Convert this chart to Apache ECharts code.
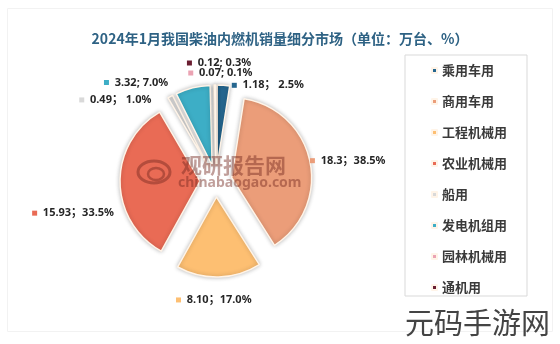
<!DOCTYPE html>
<html><head><meta charset="utf-8">
<script src="https://cdn.jsdelivr.net/npm/echarts@6/dist/echarts.min.js"></script>
<style>html,body{margin:0;padding:0;background:#fff}#c{width:560px;height:344px}</style>
</head><body><div id="c"></div>
<script>
// ---- data ----
const categories = ['乘用车用','商用车用','工程机械用','农业机械用','船用','发电机组用','园林机械用','通机用'];
const values = [1.18, 18.3, 8.10, 15.93, 0.49, 3.32, 0.07, 0.12];
const valueLabels = ['1.18','18.3','8.10','15.93','0.49','3.32','0.07','0.12'];
const pctLabels = ['2.5%','38.5%','17.0%','33.5%','1.0%','7.0%','0.1%','0.3%'];
const separators = ['； ','；','；','；','； ','; ','; ','; '];
const titleText = '2024年1月我国柴油内燃机销量细分市场（单位：万台、%）';
const watermarkCn = '观研报告网';
const watermarkEn = 'chinabaogao.com';
const siteMark = '元码手游网';

// ---- style ----
const colors = ['#25668f','#eb9d79','#fdbf72','#e96b55','#d9d9d9','#3daec6','#eba3b3','#6a1e31'];
const labelNudge = [[3,4],[-9,0],[-48,19],[-2,31],[14,-22],[17,-25],[82,-21],[41,-18]];

const chart = echarts.init(document.getElementById('c'));
const data = categories.map((name, i) => ({
  name, value: values[i], selected: true,
  itemStyle: { color: colors[i] },
  label: { rich: { m: { width: 5, height: 5, backgroundColor: colors[i] } } }
}));
const wm = 'rgba(115,40,30,0.45)';
chart.setOption({
  backgroundColor: '#fff',
  animation: false,
  title: {
    text: titleText, left: 'center', top: 27,
    textStyle: { fontFamily: "'Noto Sans CJK SC'", fontSize: 14, fontWeight: 'bold', color: '#2e6284' }
  },
  legend: {
    orient: 'vertical', left: 405, top: 55,
    padding: [9, 20, 2, 26], itemGap: 18, itemWidth: 5, itemHeight: 5, icon: 'rect',
    borderColor: '#d9d9d9', borderWidth: 1, selectedMode: false,
    textStyle: { fontFamily: "'Noto Sans CJK SC'", fontSize: 13, fontWeight: 'bold', color: '#3a3a3a' },
    data: categories
  },
  graphic: [
    { type: 'rect', z: -1, shape: { x: 7.5, y: 8.5, width: 545, height: 323 },
      style: { fill: 'none', stroke: '#f2f2f2', lineWidth: 1 } },
    { type: 'ellipse', z: 100, shape: { cx: 154, cy: 172, rx: 16, ry: 11 },
      style: { fill: 'none', stroke: wm, lineWidth: 3 } },
    { type: 'ellipse', z: 100, shape: { cx: 156, cy: 174, rx: 8, ry: 6 },
      style: { fill: 'none', stroke: wm, lineWidth: 2.5 } },
    { type: 'text', z: 100, left: 181, top: 155,
      style: { text: watermarkCn, font: "bold 21px 'Noto Sans CJK SC'", fill: wm } },
    { type: 'text', z: 100, left: 178, top: 176,
      style: { text: watermarkEn, font: "bold 14px 'Noto Sans'", fill: wm } },
    { type: 'text', z: 100, left: 405, top: 308,
      style: { text: siteMark, font: "29px 'Noto Sans CJK SC'", fill: '#444' } }
  ],
  series: [{
    type: 'pie', center: [216, 181], radius: 80, startAngle: 90, clockwise: true,
    selectedMode: 'multiple', selectedOffset: 16,
    itemStyle: { borderColor: '#fff4e8', borderWidth: 1.5, shadowBlur: 4, shadowColor: 'rgba(0,0,0,0.25)' },
    label: {
      show: true, position: 'outside',
      formatter: p => '{m|}  ' + valueLabels[p.dataIndex] + separators[p.dataIndex] + pctLabels[p.dataIndex],
      fontFamily: "'Noto Sans','Noto Sans CJK SC'", fontSize: 11, fontWeight: 'bold', color: '#262626'
    },
    labelLine: { show: false, length: 4, length2: 0 },
    labelLayout: p => ({ dx: labelNudge[p.dataIndex][0], dy: labelNudge[p.dataIndex][1] }),
    emphasis: { disabled: true },
    data
  }]
});
</script></body></html>
